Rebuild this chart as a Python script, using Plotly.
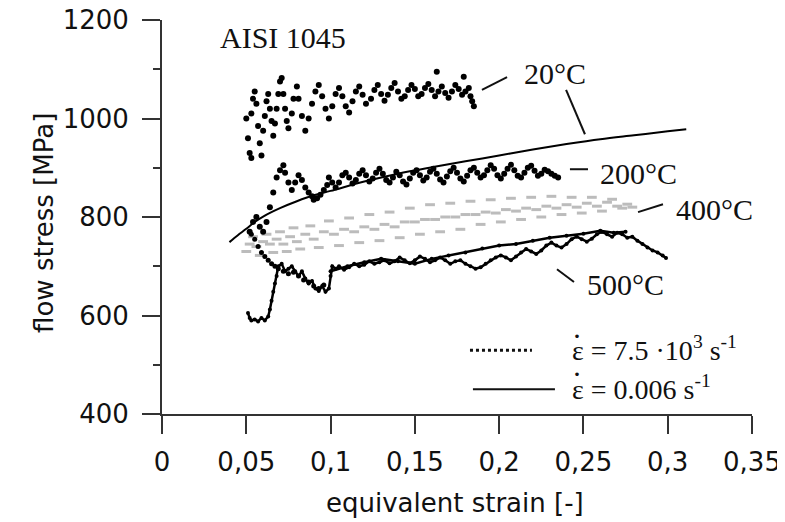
import plotly.graph_objects as go

# ---------------- data ----------------
# quasi-static curve, strain rate 0.006 1/s (20 °C)
qs_strain = [0.040, 0.045, 0.050, 0.055, 0.060, 0.070, 0.080, 0.090, 0.100, 0.120,
             0.140, 0.160, 0.180, 0.200, 0.220, 0.240, 0.260, 0.280, 0.300, 0.311]
qs_stress = [749, 763, 776, 790, 801, 818, 832, 844, 853, 872,
             888, 901, 913, 925, 937, 948, 958, 966, 974, 978]

# dynamic tests, strain rate 7.5e3 1/s
t20_strain = [0.050, 0.051, 0.052, 0.053, 0.053, 0.054, 0.055, 0.056, 0.057, 0.058,
              0.059, 0.060, 0.061, 0.062, 0.063, 0.064, 0.065, 0.066, 0.067, 0.068,
              0.069, 0.070, 0.071, 0.072, 0.073, 0.074, 0.075, 0.077, 0.078, 0.080,
              0.081, 0.083, 0.085, 0.087, 0.089, 0.091, 0.093, 0.095, 0.097, 0.099,
              0.101, 0.103, 0.105, 0.107, 0.109, 0.111, 0.113, 0.115, 0.117, 0.119,
              0.121, 0.124, 0.126, 0.128, 0.130, 0.132, 0.134, 0.136, 0.138, 0.140,
              0.142, 0.144, 0.146, 0.148, 0.150, 0.152, 0.154, 0.156, 0.158, 0.160,
              0.162, 0.163, 0.164, 0.166, 0.168, 0.170, 0.172, 0.174, 0.176, 0.178,
              0.179, 0.180, 0.182, 0.183, 0.184, 0.185]
t20_stress = [1000, 960, 930, 920, 1010, 1040, 1055, 1030, 985, 950,
              925, 975, 1005, 1035, 1050, 1020, 995, 965, 990, 1020,
              1050, 1075, 1082, 1050, 1020, 995, 980, 1010, 1040, 1065,
              1040, 1005, 975, 1000, 1030, 1055, 1068, 1045, 1020, 1000,
              1025, 1050, 1062, 1045, 1025, 1012, 1035, 1055, 1065, 1048,
              1030, 1040, 1058, 1068, 1050, 1036, 1048, 1062, 1072, 1055,
              1040, 1045, 1058, 1068, 1060, 1045, 1050, 1062, 1070, 1058,
              1045, 1095, 1055, 1065, 1052, 1042, 1055, 1068, 1060, 1048,
              1085, 1055, 1062, 1045, 1035, 1025]

t200_strain = [0.052, 0.054, 0.056, 0.058, 0.060, 0.062, 0.064, 0.066, 0.068, 0.070,
               0.072, 0.073, 0.075, 0.077, 0.079, 0.081, 0.083, 0.085, 0.087, 0.089,
               0.090, 0.092, 0.094, 0.096, 0.098, 0.099, 0.101, 0.103, 0.105, 0.107,
               0.109, 0.111, 0.113, 0.115, 0.117, 0.119, 0.121, 0.123, 0.125, 0.127,
               0.129, 0.131, 0.133, 0.135, 0.137, 0.139, 0.141, 0.143, 0.145, 0.147,
               0.149, 0.151, 0.153, 0.155, 0.157, 0.159, 0.161, 0.163, 0.165, 0.167,
               0.169, 0.171, 0.173, 0.175, 0.177, 0.179, 0.181, 0.183, 0.185, 0.187,
               0.189, 0.191, 0.193, 0.195, 0.197, 0.199, 0.201, 0.203, 0.205, 0.207,
               0.209, 0.211, 0.213, 0.215, 0.217, 0.219, 0.221, 0.223, 0.225, 0.227,
               0.229, 0.231, 0.233, 0.235]
t200_stress = [770, 790, 800, 780, 770, 790, 820, 850, 880, 895,
               905, 890, 870, 855, 870, 885, 875, 860, 850, 842,
               835, 838, 845, 855, 865, 880, 870, 860, 870, 885,
               890, 880, 868, 875, 888, 895, 885, 872, 878, 890,
               898, 888, 875, 870, 880, 892, 885, 872, 866, 878,
               890, 895, 885, 874, 880, 892, 898, 888, 876, 870,
               882, 893, 900, 890, 878, 872, 884, 895, 900, 890,
               880, 885, 895, 905, 898, 885, 878, 888, 898, 906,
               895, 884, 880, 890, 900, 904, 894, 884, 888, 896,
               893, 888, 884, 880]

t400_strain = [0.050, 0.052, 0.054, 0.056, 0.058, 0.060, 0.062, 0.064, 0.066, 0.068,
               0.070, 0.072, 0.074, 0.076, 0.078, 0.080, 0.082, 0.085, 0.088, 0.090,
               0.093, 0.096, 0.099, 0.102, 0.105, 0.108, 0.111, 0.114, 0.117, 0.120,
               0.123, 0.126, 0.129, 0.132, 0.135, 0.138, 0.141, 0.144, 0.147, 0.150,
               0.153, 0.156, 0.159, 0.162, 0.165, 0.168, 0.171, 0.174, 0.177, 0.180,
               0.183, 0.186, 0.189, 0.192, 0.195, 0.198, 0.201, 0.204, 0.207, 0.210,
               0.213, 0.216, 0.219, 0.222, 0.225, 0.228, 0.231, 0.234, 0.237, 0.240,
               0.243, 0.246, 0.249, 0.252, 0.255, 0.258, 0.261, 0.264, 0.267, 0.270,
               0.273, 0.276, 0.279]
t400_stress = [730, 745, 760, 740, 722, 750, 765, 745, 728, 755,
               770, 745, 730, 760, 778, 750, 735, 765, 782, 755,
               738, 770, 792, 765, 742, 775, 798, 770, 748, 780,
               805, 775, 752, 785, 810, 780, 758, 790, 818, 790,
               765, 795, 825, 795, 770, 800, 828, 800, 775, 805,
               832, 805, 785, 810, 835, 808, 790, 815, 838, 812,
               795, 818, 840, 815, 800, 822, 842, 818, 805, 825,
               840, 820, 808, 828, 840, 822, 812, 830, 836, 822,
               818, 826, 820]

t500_strain = [0.051, 0.052, 0.053, 0.055, 0.057, 0.059, 0.061, 0.063, 0.064, 0.065,
               0.066, 0.067, 0.068, 0.069, 0.071, 0.073, 0.075, 0.077, 0.079, 0.081,
               0.083, 0.085, 0.087, 0.089, 0.091, 0.093, 0.095, 0.097, 0.099, 0.100,
               0.101, 0.103, 0.105, 0.108, 0.111, 0.114, 0.117, 0.120, 0.123, 0.126,
               0.129, 0.132, 0.135, 0.138, 0.141, 0.144, 0.147, 0.150, 0.153, 0.156,
               0.159, 0.162, 0.165, 0.168, 0.171, 0.174, 0.177, 0.180, 0.183, 0.186,
               0.189, 0.192, 0.195, 0.198, 0.201, 0.204, 0.207, 0.210, 0.213, 0.216,
               0.219, 0.222, 0.225, 0.228, 0.231, 0.234, 0.237, 0.240, 0.243, 0.246,
               0.249, 0.252, 0.255, 0.258, 0.261, 0.264, 0.267, 0.270, 0.273, 0.276,
               0.279, 0.282, 0.285, 0.288, 0.291, 0.294, 0.297, 0.299]
t500_stress = [605, 595, 590, 592, 588, 595, 590, 598, 612, 630,
               648, 665, 680, 700, 705, 690, 695, 700, 690, 680,
               690, 675, 665, 670, 655, 650, 660, 648, 655, 680,
               700, 695, 700, 693, 698, 705, 700, 703, 710, 705,
               708, 712, 706, 710, 718, 712, 706, 712, 720, 715,
               708, 712, 718, 712, 705, 710, 712, 705, 700, 695,
               698, 705, 712, 718, 722, 718, 712, 720, 728, 735,
               730, 725, 732, 742, 748, 742, 738, 745, 755, 760,
               755, 750, 756, 765, 770, 765, 760, 768, 765, 758,
               760, 752, 745, 738, 732, 728, 722, 717]

# second 500 °C run: early scattered points, then the upper branch
t500b_dots_strain = [0.053, 0.055, 0.057, 0.059, 0.061, 0.063, 0.065, 0.067, 0.069, 0.072,
                     0.075, 0.078, 0.081, 0.084, 0.087, 0.090, 0.093, 0.096]
t500b_dots_stress = [765, 755, 740, 728, 720, 712, 705, 700, 695, 690,
                     685, 688, 680, 672, 668, 660, 655, 662]
t500b_strain = [0.100, 0.110, 0.120, 0.130, 0.140, 0.150, 0.160, 0.170, 0.180, 0.190,
                0.200, 0.210, 0.220, 0.230, 0.240, 0.250, 0.260, 0.268, 0.275]
t500b_stress = [690, 700, 708, 715, 710, 705, 715, 722, 728, 736,
                742, 745, 752, 758, 762, 766, 772, 768, 770]

x_ticks = [0, 0.05, 0.1, 0.15, 0.2, 0.25, 0.3, 0.35]
x_ticktext = ["0", "0,05", "0,1", "0,15", "0,2", "0,25", "0,3", "0,35"]
y_ticks = [400, 600, 800, 1000, 1200]

# ---------------- figure ----------------
fig = go.Figure()

fig.add_trace(go.Scatter(x=t400_strain, y=t400_stress, mode="markers",
                         marker=dict(symbol="line-ew", size=7, color="#bcbcbc",
                                     line=dict(color="#bcbcbc", width=3)),
                         showlegend=False))
fig.add_trace(go.Scatter(x=t500_strain, y=t500_stress, mode="lines+markers",
                         line=dict(color="black", width=2.5),
                         marker=dict(size=4, color="black"), showlegend=False))
fig.add_trace(go.Scatter(x=t500b_dots_strain, y=t500b_dots_stress, mode="markers",
                         marker=dict(size=5, color="black"), showlegend=False))
fig.add_trace(go.Scatter(x=t500b_strain, y=t500b_stress, mode="lines+markers",
                         line=dict(color="black", width=2.5),
                         marker=dict(size=4, color="black"), showlegend=False))
fig.add_trace(go.Scatter(x=t200_strain, y=t200_stress, mode="markers",
                         marker=dict(size=6, color="black"), showlegend=False))
fig.add_trace(go.Scatter(x=t20_strain, y=t20_stress, mode="markers",
                         marker=dict(size=6, color="black"), showlegend=False))
fig.add_trace(go.Scatter(x=qs_strain, y=qs_stress, mode="lines",
                         line=dict(color="black", width=2, shape="spline"),
                         showlegend=False))

serif = "Liberation Serif, Times New Roman, serif"
sans = "DejaVu Sans, Arial, sans-serif"

annos = []
def lab(text, x, y, size=30, **kw):
    annos.append(dict(text=text, x=x, y=y, xref="x", yref="y", showarrow=False,
                      font=dict(family=serif, size=size, color="#111"),
                      xanchor="center", yanchor="middle", **kw))

lab("AISI 1045", 0.0718, 1165)
lab("20°C", 0.2331, 1092)
lab("200°C", 0.2824, 889)
lab("400°C", 0.3275, 816)
lab("500°C", 0.2747, 662)

# legend texts (epsilon with a separate dot above)
def ptext(text, x, y, size=28, anchor="left"):
    annos.append(dict(text=text, x=x, y=y, xref="paper", yref="paper", showarrow=False,
                      xanchor=anchor, yanchor="middle",
                      font=dict(family=serif, size=size, color="#111")))

ptext("ε = 7.5 ·10<sup>3</sup> s<sup>-1</sup>", 0.6915, 0.166)
ptext("ε = 0.006 s<sup>-1</sup>", 0.6915, 0.068)
ptext("·", 0.703, 0.200, size=30, anchor="center")
ptext("·", 0.703, 0.102, size=30, anchor="center")

# axis titles
annos.append(dict(text="equivalent strain [-]", x=0.4966, y=-0.226, xref="paper",
                  yref="paper", showarrow=False, xanchor="center", yanchor="middle",
                  font=dict(family=sans, size=26, color="#111")))
annos.append(dict(text="flow stress [MPa]", x=-0.2, y=0.485, xref="paper",
                  yref="paper", showarrow=False, xanchor="center", yanchor="middle",
                  textangle=-90, font=dict(family=sans, size=26, color="#111")))

shapes = []
def leader(x0, y0, x1, y1):
    shapes.append(dict(type="line", xref="x", yref="y", x0=x0, y0=y0, x1=x1, y1=y1,
                       line=dict(color="#111", width=2)))

leader(0.1898, 1058, 0.2047, 1084)
leader(0.2397, 1058, 0.2509, 968)
leader(0.2420, 897, 0.2527, 897)
leader(0.2824, 810, 0.2972, 826)
leader(0.2343, 694, 0.2444, 668)

# legend samples
shapes.append(dict(type="line", xref="paper", yref="paper", x0=0.522, x1=0.627,
                   y0=0.162, y1=0.162, line=dict(color="#111", width=3, dash="dot")))
shapes.append(dict(type="line", xref="paper", yref="paper", x0=0.527, x1=0.666,
                   y0=0.063, y1=0.063, line=dict(color="#111", width=2)))

axis_common = dict(showline=True, linecolor="#333", linewidth=2, ticks="outside",
                   tickcolor="#333", tickwidth=2, showgrid=False, zeroline=False,
                   automargin=False, ticklabeloverflow="allow",
                   tickfont=dict(family=sans, size=26, color="#111"))

# the page adds an 8 px body margin, so the figure is 8 px smaller on each side
fig.update_layout(
    width=777, height=514,
    margin=dict(l=154, r=33, t=12, b=108),
    paper_bgcolor="white", plot_bgcolor="white",
    xaxis=dict(range=[0, 0.35], tickvals=x_ticks, ticktext=x_ticktext, ticklen=18,
               ticklabelstandoff=6, **axis_common),
    yaxis=dict(range=[400, 1200], tickvals=y_ticks, ticklen=18, ticklabelstandoff=8,
               minor=dict(ticks="outside", dtick=100, ticklen=7, tickcolor="#333",
                          tickwidth=2),
               **axis_common),
    annotations=annos, shapes=shapes,
)

fig.write_html("out.html")
